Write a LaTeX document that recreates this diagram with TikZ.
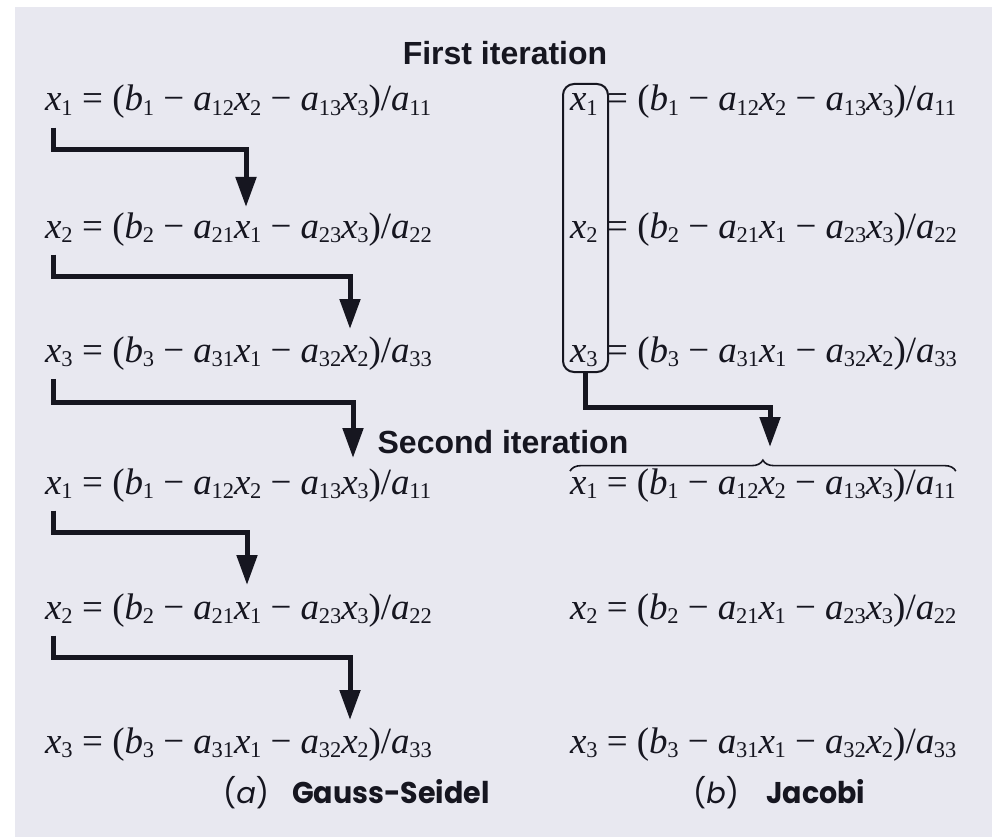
\documentclass[tikz,border=0pt]{standalone}
\usepackage{fontspec}
\setmainfont{Liberation Serif}
\newfontfamily\headfont{Liberation Sans}
\newfontfamily\labfont{Poppins}
\usetikzlibrary{arrows.meta,decorations.pathreplacing,fit}
\definecolor{bg}{RGB}{232,232,240}
\definecolor{ink}{RGB}{22,22,32}
\newcommand\vr[2]{\textit{#1}\kern-0.01em\raisebox{-0.12em}{\fontsize{22.5}{22.5}\selectfont #2}}
\tikzset{
  eq/.style={inner sep=0pt, anchor=base west, text=ink, font=\fontsize{37}{42}\selectfont},
  head/.style={inner sep=0pt, anchor=base, text=ink, font=\headfont\bfseries\fontsize{32}{36}\selectfont},
  lab/.style={inner sep=0pt, anchor=base west, text=ink, font=\labfont\fontsize{29}{32}\selectfont},
  labb/.style={lab, font=\labfont\bfseries\fontsize{30}{34}\selectfont},
  arr/.style={draw=ink, line width=5pt, -{Triangle[length=30pt,width=20pt]}},
  jbox/.style={draw=ink, line width=2pt, rounded corners=11pt, inner sep=0pt},
  brc/.style={draw=ink, line width=1.6pt, decorate, decoration={brace, amplitude=11pt}}
}
\begin{document}
\begin{tikzpicture}[x=1pt,y=-1pt]
\useasboundingbox (0,0) rectangle (992,837);
\fill[white] (0,0) rectangle (992,837);
\fill[bg] (15,7) rectangle (992,837);

% headings
\node[head] (h1) at (505,65) {First iteration};
\node[head] (h2) at (503,453) {Second iteration};

% Gauss-Seidel column
\node[eq] (g1l) at (45,111) {\vr{x}{1}};
\node[eq] (g1r) at ([xshift=9.3pt]g1l.base east) {= (\vr{b}{1} − \vr{a}{12}\vr{x}{2} − \vr{a}{13}\vr{x}{3})/\vr{a}{11}};
\node[eq] (g2l) at (45,238) {\vr{x}{2}};
\node[eq] (g2r) at ([xshift=9.3pt]g2l.base east) {= (\vr{b}{2} − \vr{a}{21}\vr{x}{1} − \vr{a}{23}\vr{x}{3})/\vr{a}{22}};
\node[eq] (g3l) at (45,362) {\vr{x}{3}};
\node[eq] (g3r) at ([xshift=9.3pt]g3l.base east) {= (\vr{b}{3} − \vr{a}{31}\vr{x}{1} − \vr{a}{32}\vr{x}{2})/\vr{a}{33}};
\node[eq] (g4l) at (45,494) {\vr{x}{1}};
\node[eq] (g4r) at ([xshift=9.3pt]g4l.base east) {= (\vr{b}{1} − \vr{a}{12}\vr{x}{2} − \vr{a}{13}\vr{x}{3})/\vr{a}{11}};
\node[eq] (g5l) at (45,619) {\vr{x}{2}};
\node[eq] (g5r) at ([xshift=9.3pt]g5l.base east) {= (\vr{b}{2} − \vr{a}{21}\vr{x}{1} − \vr{a}{23}\vr{x}{3})/\vr{a}{22}};
\node[eq] (g6l) at (45,753) {\vr{x}{3}};
\node[eq] (g6r) at ([xshift=9.3pt]g6l.base east) {= (\vr{b}{3} − \vr{a}{31}\vr{x}{1} − \vr{a}{32}\vr{x}{2})/\vr{a}{33}};

% Jacobi column
\node[eq] (j1l) at (570,111) {\vr{x}{1}};
\node[eq] (j1r) at ([xshift=9.3pt]j1l.base east) {= (\vr{b}{1} − \vr{a}{12}\vr{x}{2} − \vr{a}{13}\vr{x}{3})/\vr{a}{11}};
\node[eq] (j2l) at (570,238) {\vr{x}{2}};
\node[eq] (j2r) at ([xshift=9.3pt]j2l.base east) {= (\vr{b}{2} − \vr{a}{21}\vr{x}{1} − \vr{a}{23}\vr{x}{3})/\vr{a}{22}};
\node[eq] (j3l) at (570,362) {\vr{x}{3}};
\node[eq] (j3r) at ([xshift=9.3pt]j3l.base east) {= (\vr{b}{3} − \vr{a}{31}\vr{x}{1} − \vr{a}{32}\vr{x}{2})/\vr{a}{33}};
\node[eq] (j4) at (570,494) {\vr{x}{1} = (\vr{b}{1} − \vr{a}{12}\vr{x}{2} − \vr{a}{13}\vr{x}{3})/\vr{a}{11}};
\node[eq] (j5) at (570,619) {\vr{x}{2} = (\vr{b}{2} − \vr{a}{21}\vr{x}{1} − \vr{a}{23}\vr{x}{3})/\vr{a}{22}};
\node[eq] (j6) at (570,753) {\vr{x}{3} = (\vr{b}{3} − \vr{a}{31}\vr{x}{1} − \vr{a}{32}\vr{x}{2})/\vr{a}{33}};

% Jacobi box, arrow and brace
\node[jbox, fit={(563,84) (608,372)}] (jb) {};
\coordinate (jt) at (770,447);
\draw[arr] (jb.south) -- ++(0,34) -| (jt);
\draw[brc] ([yshift=-3pt]j4.north west) -- ([yshift=-3pt]j4.north east);

% Gauss-Seidel arrows
\coordinate (t1) at (246,207);
\coordinate (t2) at (350,329);
\coordinate (t3) at (353,458);
\coordinate (t4) at (247,585);
\coordinate (t5) at (350,720);
\draw[arr] ([xshift=-5pt]g1l.south) ++(0,-12pt) -- ++(0,22) -| (t1);
\draw[arr] ([xshift=-5pt]g2l.south) ++(0,-12pt) -- ++(0,22) -| (t2);
\draw[arr] ([xshift=-5pt]g3l.south) ++(0,-12pt) -- ++(0,24) -| (t3);
\draw[arr] ([xshift=-5pt]g4l.south) ++(0,-12pt) -- ++(0,22) -| (t4);
\draw[arr] ([xshift=-5pt]g5l.south) ++(0,-12pt) -- ++(0,22) -| (t5);

% labels
\node[lab] (la) at (223,803) {(\textit{a})};
\node[labb] (lgs) at (292,803) {\scalebox{0.95}[1]{Gauss-Seidel}};
\node[lab] (lb) at (693,803) {(\textit{b})};
\node[labb] (lj) at (766,803) {\scalebox{0.95}[1]{Jacobi}};
\end{tikzpicture}
\end{document}
